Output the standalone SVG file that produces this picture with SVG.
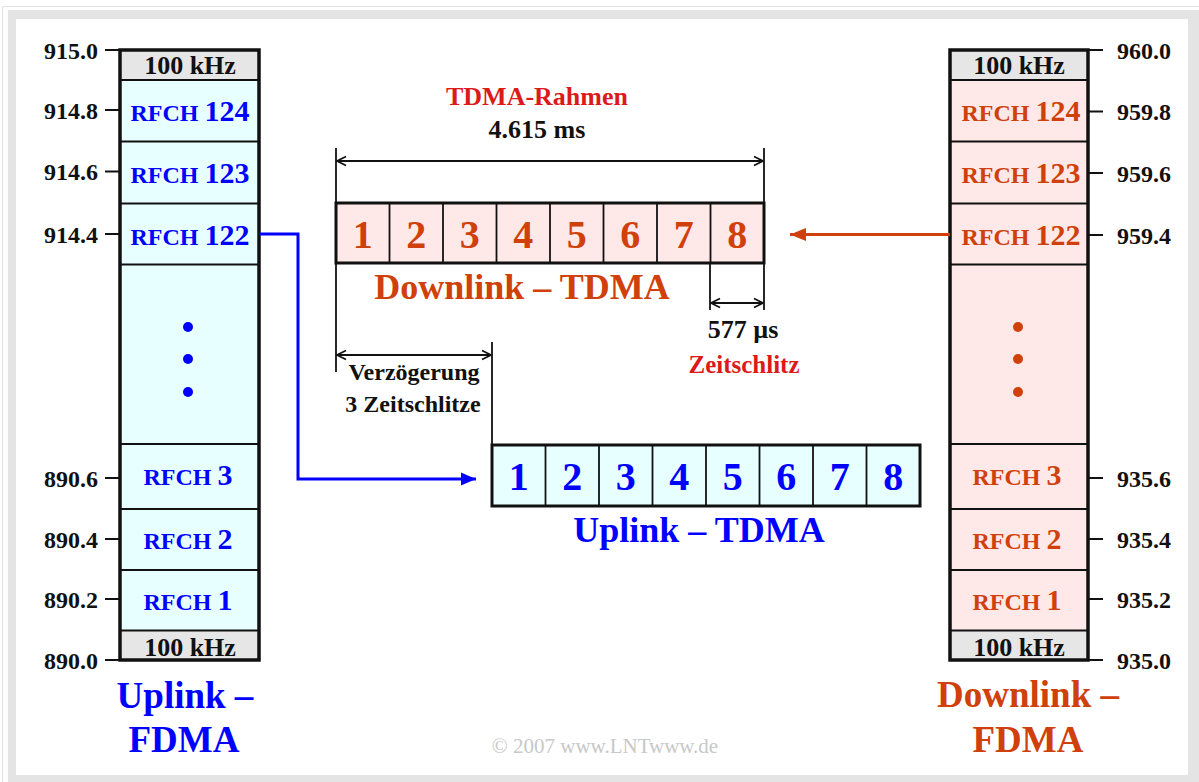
<svg xmlns="http://www.w3.org/2000/svg" width="1199" height="782" viewBox="0 0 1199 782">
<defs>
<style>
text{font-family:"Liberation Serif","Times New Roman",serif;font-weight:bold}
.ax{font-size:24px;fill:#111}
.axl{text-anchor:end}
.hz{font-size:26px;fill:#111;text-anchor:middle}
.rf{font-size:24px;text-anchor:middle}
.rf tspan.n{font-size:30px}
.ub{fill:#0000ff}
.dl{fill:#d0400a}
.rd{fill:#dd1a1a}
.bk{fill:#111}
.mid{text-anchor:middle}
.tick{stroke:#111;stroke-width:2}
.colbox{stroke:#111;stroke-width:3.5}
.div{stroke:#111;stroke-width:2}
.cell{stroke:#111;stroke-width:1.8}
.dim{stroke:#111;stroke-width:1.8;fill:none}
.big{font-size:36px}
.dig{font-size:40px;text-anchor:middle}
</style>
<marker id="op" viewBox="-11 -6 12 12" markerWidth="12" markerHeight="12" refX="0" refY="0" orient="auto-start-reverse" markerUnits="userSpaceOnUse">
<path d="M-9,-4.5 L0,0 L-9,4.5" fill="none" stroke="#111" stroke-width="1.8"/>
</marker>
<marker id="ab" viewBox="0 -7 15 14" markerWidth="15" markerHeight="14" refX="15" refY="0" orient="auto" markerUnits="userSpaceOnUse">
<path d="M0,-6.5 L15,0 L0,6.5 Z" fill="#0000ff"/>
</marker>
<marker id="ar" viewBox="0 -7 16 14" markerWidth="16" markerHeight="14" refX="16" refY="0" orient="auto" markerUnits="userSpaceOnUse">
<path d="M0,-6.5 L16,0 L0,6.5 Z" fill="#d0400a"/>
</marker>
</defs>

<g id="frame">
<rect x="0" y="0" width="1199" height="782" fill="#fff"/>
<rect x="2.5" y="6.5" width="1200" height="780" fill="none" stroke="#e2e2e2" stroke-width="1"/>
<rect x="8" y="10" width="1191" height="772" fill="#e4e4e4"/>
<rect x="16" y="19" width="1172" height="756" fill="#fff"/>
</g>

<g id="uplink-fdma">
<rect x="120" y="50" width="139" height="30" fill="#e6e6e6"/>
<rect x="120" y="80" width="139" height="550.5" fill="#e8ffff"/>
<rect x="120" y="630.5" width="139" height="29.5" fill="#e6e6e6"/>
<g class="div">
<line x1="120" y1="80" x2="259" y2="80"/>
<line x1="120" y1="141.5" x2="259" y2="141.5"/>
<line x1="120" y1="203.5" x2="259" y2="203.5"/>
<line x1="120" y1="264.5" x2="259" y2="264.5"/>
<line x1="120" y1="444" x2="259" y2="444"/>
<line x1="120" y1="509" x2="259" y2="509"/>
<line x1="120" y1="570" x2="259" y2="570"/>
<line x1="120" y1="630.5" x2="259" y2="630.5"/>
</g>
<rect class="colbox" x="120" y="50" width="139" height="610" fill="none"/>
<text class="hz" x="190" y="74">100 kHz</text>
<text class="rf ub" x="190" y="121">RFCH <tspan class="n">124</tspan></text>
<text class="rf ub" x="190" y="183">RFCH <tspan class="n">123</tspan></text>
<text class="rf ub" x="190" y="244.5">RFCH <tspan class="n">122</tspan></text>
<circle cx="188" cy="327" r="5" fill="#0000ff"/>
<circle cx="188" cy="359" r="5" fill="#0000ff"/>
<circle cx="188" cy="392" r="5" fill="#0000ff"/>
<text class="rf ub" x="188" y="485">RFCH <tspan class="n">3</tspan></text>
<text class="rf ub" x="188" y="549">RFCH <tspan class="n">2</tspan></text>
<text class="rf ub" x="188" y="610">RFCH <tspan class="n">1</tspan></text>
<text class="hz" x="190" y="655.5">100 kHz</text>
<g class="tick">
<line x1="105" y1="50" x2="120" y2="50"/>
<line x1="105" y1="110" x2="120" y2="110"/>
<line x1="105" y1="171.5" x2="120" y2="171.5"/>
<line x1="105" y1="234" x2="120" y2="234"/>
<line x1="105" y1="478" x2="120" y2="478"/>
<line x1="105" y1="539" x2="120" y2="539"/>
<line x1="105" y1="599" x2="120" y2="599"/>
<line x1="105" y1="660" x2="120" y2="660"/>
</g>
<g class="ax axl">
<text x="98" y="59">915.0</text>
<text x="98" y="118.5">914.8</text>
<text x="98" y="180">914.6</text>
<text x="98" y="242.5">914.4</text>
<text x="98" y="486.5">890.6</text>
<text x="98" y="547.5">890.4</text>
<text x="98" y="607.5">890.2</text>
<text x="98" y="668.5">890.0</text>
</g>
<text class="ub mid" x="185" y="708" font-size="37">Uplink –</text>
<text class="ub mid" x="184" y="752" font-size="37">FDMA</text>
</g>

<g id="downlink-fdma">
<rect x="950" y="50" width="138" height="30" fill="#e6e6e6"/>
<rect x="950" y="80" width="138" height="550.5" fill="#ffe8e8"/>
<rect x="950" y="630.5" width="138" height="29.5" fill="#e6e6e6"/>
<g class="div">
<line x1="950" y1="80" x2="1088" y2="80"/>
<line x1="950" y1="141.5" x2="1088" y2="141.5"/>
<line x1="950" y1="203.5" x2="1088" y2="203.5"/>
<line x1="950" y1="264.5" x2="1088" y2="264.5"/>
<line x1="950" y1="444" x2="1088" y2="444"/>
<line x1="950" y1="509" x2="1088" y2="509"/>
<line x1="950" y1="570" x2="1088" y2="570"/>
<line x1="950" y1="630.5" x2="1088" y2="630.5"/>
</g>
<rect class="colbox" x="950" y="50" width="138" height="610" fill="none"/>
<text class="hz" x="1019" y="74">100 kHz</text>
<text class="rf dl" x="1021" y="121">RFCH <tspan class="n">124</tspan></text>
<text class="rf dl" x="1021" y="183">RFCH <tspan class="n">123</tspan></text>
<text class="rf dl" x="1021" y="244.5">RFCH <tspan class="n">122</tspan></text>
<circle cx="1018" cy="327" r="5" fill="#d0400a"/>
<circle cx="1018" cy="359" r="5" fill="#d0400a"/>
<circle cx="1018" cy="392" r="5" fill="#d0400a"/>
<text class="rf dl" x="1017" y="485">RFCH <tspan class="n">3</tspan></text>
<text class="rf dl" x="1017" y="549">RFCH <tspan class="n">2</tspan></text>
<text class="rf dl" x="1017" y="610">RFCH <tspan class="n">1</tspan></text>
<text class="hz" x="1019" y="655.5">100 kHz</text>
<g class="tick">
<line x1="1088" y1="50" x2="1103" y2="50"/>
<line x1="1088" y1="111.5" x2="1103" y2="111.5"/>
<line x1="1088" y1="173" x2="1103" y2="173"/>
<line x1="1088" y1="235" x2="1103" y2="235"/>
<line x1="1088" y1="478" x2="1103" y2="478"/>
<line x1="1088" y1="539" x2="1103" y2="539"/>
<line x1="1088" y1="599" x2="1103" y2="599"/>
<line x1="1088" y1="660" x2="1103" y2="660"/>
</g>
<g class="ax">
<text x="1117" y="59">960.0</text>
<text x="1117" y="120">959.8</text>
<text x="1117" y="181.5">959.6</text>
<text x="1117" y="243.5">959.4</text>
<text x="1117" y="486.5">935.6</text>
<text x="1117" y="547.5">935.4</text>
<text x="1117" y="607.5">935.2</text>
<text x="1117" y="668.5">935.0</text>
</g>
<text class="dl mid" x="1028" y="707" font-size="37">Downlink –</text>
<text class="dl mid" x="1028" y="752" font-size="37">FDMA</text>
</g>

<g id="downlink-tdma">
<rect x="336" y="203" width="428" height="60" fill="#ffe8e8"/>
<g class="cell">
<line x1="389.5" y1="203" x2="389.5" y2="263"/>
<line x1="443" y1="203" x2="443" y2="263"/>
<line x1="496.5" y1="203" x2="496.5" y2="263"/>
<line x1="550" y1="203" x2="550" y2="263"/>
<line x1="603.5" y1="203" x2="603.5" y2="263"/>
<line x1="657" y1="203" x2="657" y2="263"/>
<line x1="710.5" y1="203" x2="710.5" y2="263"/>
</g>
<rect x="336" y="203" width="428" height="60" fill="none" stroke="#111" stroke-width="3"/>
<g class="dig dl">
<text x="362.75" y="247.5">1</text>
<text x="416.25" y="247.5">2</text>
<text x="469.75" y="247.5">3</text>
<text x="523.25" y="247.5">4</text>
<text x="576.75" y="247.5">5</text>
<text x="630.25" y="247.5">6</text>
<text x="683.75" y="247.5">7</text>
<text x="737.25" y="247.5">8</text>
</g>
<text class="dl mid big" x="522" y="299">Downlink – TDMA</text>
</g>

<g id="uplink-tdma">
<rect x="492" y="445" width="428" height="61" fill="#e8ffff"/>
<g class="cell">
<line x1="545.5" y1="445" x2="545.5" y2="506"/>
<line x1="599" y1="445" x2="599" y2="506"/>
<line x1="652.5" y1="445" x2="652.5" y2="506"/>
<line x1="706" y1="445" x2="706" y2="506"/>
<line x1="759.5" y1="445" x2="759.5" y2="506"/>
<line x1="813" y1="445" x2="813" y2="506"/>
<line x1="866.5" y1="445" x2="866.5" y2="506"/>
</g>
<rect x="492" y="445" width="428" height="61" fill="none" stroke="#111" stroke-width="3"/>
<g class="dig ub">
<text x="518.75" y="489.5">1</text>
<text x="572.25" y="489.5">2</text>
<text x="625.75" y="489.5">3</text>
<text x="679.25" y="489.5">4</text>
<text x="732.75" y="489.5">5</text>
<text x="786.25" y="489.5">6</text>
<text x="839.75" y="489.5">7</text>
<text x="893.25" y="489.5">8</text>
</g>
<text class="ub mid big" x="699" y="542">Uplink – TDMA</text>
</g>

<g id="labels">
<text class="rd mid" x="537" y="105" font-size="26">TDMA-Rahmen</text>
<text class="bk mid" x="537" y="138" font-size="26">4.615 ms</text>
<text class="bk mid" x="743" y="338" font-size="26">577 µs</text>
<text class="rd mid" x="744" y="373" font-size="25">Zeitschlitz</text>
<text class="bk mid" x="414" y="380" font-size="24">Verzögerung</text>
<text class="bk mid" x="413" y="412" font-size="24">3 Zeitschlitze</text>
<text class="mid" x="605" y="753" font-size="21" fill="#c8c8c8" style="font-weight:normal">© 2007 www.LNTwww.de</text>
</g>

<g id="connectors">
<line class="dim" x1="336" y1="148" x2="336" y2="372"/>
<line class="dim" x1="764" y1="148" x2="764" y2="310"/>
<line class="dim" x1="710" y1="263" x2="710" y2="310"/>
<line class="dim" x1="492" y1="342" x2="492" y2="445"/>
<line class="dim" x1="337" y1="161" x2="763" y2="161" marker-start="url(#op)" marker-end="url(#op)"/>
<line class="dim" x1="711" y1="303" x2="763" y2="303" marker-start="url(#op)" marker-end="url(#op)"/>
<line class="dim" x1="337" y1="355" x2="491" y2="355" marker-start="url(#op)" marker-end="url(#op)"/>
<path d="M259,234 H298 V479 H476" fill="none" stroke="#0000ff" stroke-width="3" marker-end="url(#ab)"/>
<path d="M950,234.5 H790" fill="none" stroke="#d0400a" stroke-width="3" marker-end="url(#ar)"/>
</g>
</svg>
